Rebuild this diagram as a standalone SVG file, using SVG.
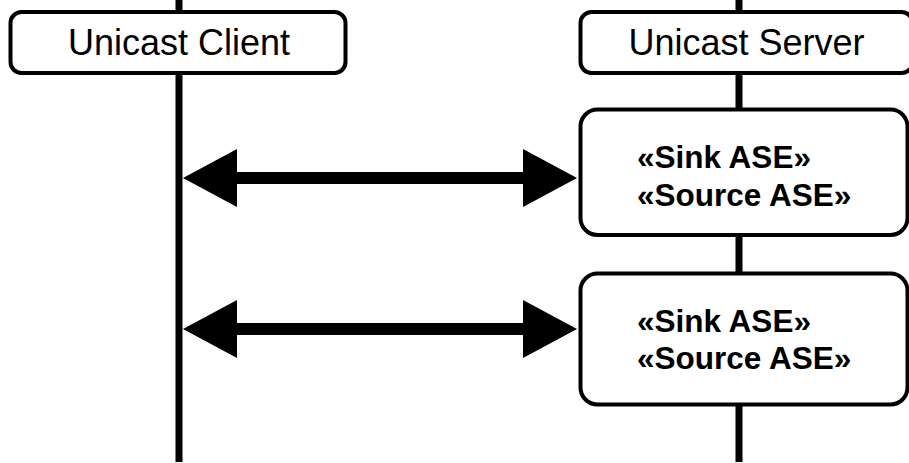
<svg xmlns="http://www.w3.org/2000/svg" width="909" height="463" viewBox="0 0 909 463">
  <style>
    .box { fill: #ffffff; stroke: #000000; stroke-width: 4; }
    .life { stroke: #000000; stroke-width: 7; fill: none; }
    .head { font-family: "Liberation Sans", Arial, sans-serif; font-size: 36px; fill: #000000; text-anchor: middle; }
    .ase { font-family: "Liberation Sans", Arial, sans-serif; font-size: 31.5px; font-weight: bold; fill: #000000; }
    .msg { stroke: #000000; stroke-width: 12; fill: none; marker-start: url(#ah); marker-end: url(#ah); }
  </style>
  <defs>
    <marker id="ah" markerUnits="userSpaceOnUse" markerWidth="54" markerHeight="58" refX="0" refY="29" orient="auto-start-reverse" overflow="visible">
      <path d="M0,0 L54,29 L0,58 Z" fill="#000000"/>
    </marker>
  </defs>
  <rect width="909" height="463" fill="#ffffff"/>
  <g id="lifelines">
    <line class="life" x1="179" y1="0" x2="179" y2="462"/>
    <line class="life" x1="739" y1="0" x2="739" y2="462"/>
  </g>
  <g id="connectors">
    <line class="msg" x1="237" y1="178" x2="523" y2="178"/>
    <line class="msg" x1="237" y1="329" x2="523" y2="329"/>
  </g>
  <g id="client">
    <rect class="box" x="10.5" y="12" width="335" height="61" rx="11"/>
    <text class="head" x="179" y="55">Unicast Client</text>
  </g>
  <g id="server">
    <rect class="box" x="580.5" y="12" width="332" height="61" rx="11"/>
    <text class="head" x="746.5" y="55">Unicast Server</text>
  </g>
  <g id="ase1">
    <rect class="box" x="580.5" y="109.5" width="327" height="125.5" rx="17"/>
    <text class="ase" x="637" y="168">«Sink ASE»</text>
    <text class="ase" x="637" y="206">«Source ASE»</text>
  </g>
  <g id="ase2">
    <rect class="box" x="580.5" y="273.5" width="327" height="131" rx="17"/>
    <text class="ase" x="637" y="332">«Sink ASE»</text>
    <text class="ase" x="637" y="369">«Source ASE»</text>
  </g>
</svg>
